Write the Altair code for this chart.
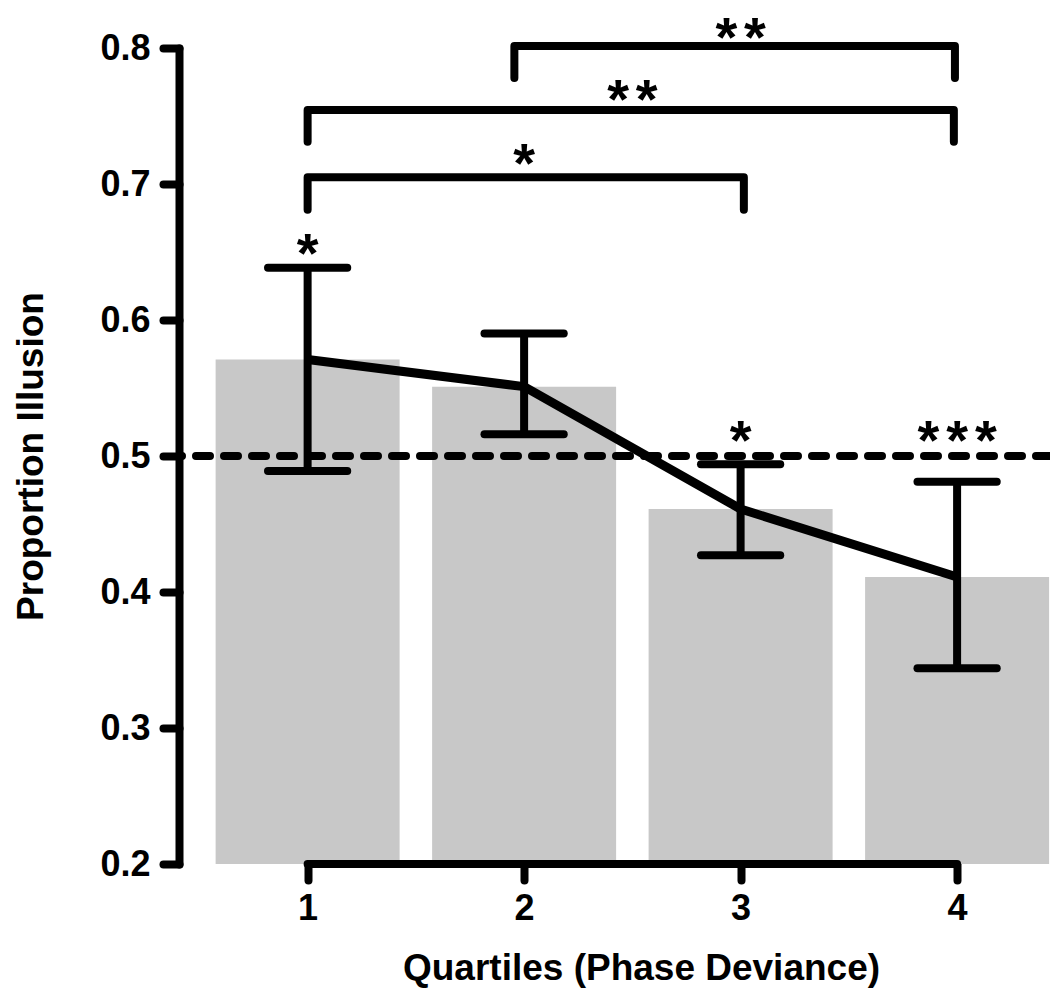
import altair as alt
import pandas as pd

# ---- data ----
quartiles = [1, 2, 3, 4]
means = [0.571, 0.551, 0.461, 0.411]
err_lo = [0.489, 0.516, 0.427, 0.344]
err_hi = [0.6385, 0.590, 0.494, 0.481]

chance = 0.5
y_ticks = [0.2, 0.3, 0.4, 0.5, 0.6, 0.7, 0.8]

br_id = ["1-3", "1-4", "2-4"]
br_x1 = [1.0, 1.0, 1.955]
br_x2 = [3.015, 3.985, 3.99]
br_y = [0.705, 0.7545, 0.8015]
br_end = [0.681, 0.731, 0.778]

star_text = ["*", "**", "**", "*", "*", "***"]
star_x = [2.0, 2.5, 3.0, 1.0, 3.0, 4.0]
star_y = [0.725, 0.772, 0.818, 0.659, 0.521, 0.521]

# ---- tables ----
bars = pd.DataFrame({"q": quartiles, "mean": means, "lo": err_lo, "hi": err_hi,
                     "base": [y_ticks[0]] * len(quartiles)})
rows = []
for b, x1, x2, y, e in zip(br_id, br_x1, br_x2, br_y, br_end):
    rows += [{"id": b, "o": 0, "q": x1, "mean": e},
             {"id": b, "o": 1, "q": x1, "mean": y},
             {"id": b, "o": 2, "q": x2, "mean": y},
             {"id": b, "o": 3, "q": x2, "mean": e}]
brackets = pd.DataFrame(rows)

# one row per asterisk, k = index within its label, n = label length
star_rows = []
for t, x, y in zip(star_text, star_x, star_y):
    for k in range(len(t)):
        star_rows.append({"t": "*", "c": x, "mean": y, "k": k, "n": len(t)})
stars = pd.DataFrame(star_rows)

axis_line = pd.DataFrame({"q": [quartiles[0]], "q2": [quartiles[-1]], "mean": [y_ticks[0]]})
chance_df = pd.DataFrame({"mean": [chance]})

FONT = "Liberation Sans"
xs = alt.Scale(domain=[0.429, 4.406], nice=False, zero=False)
ys = alt.Scale(domain=[0.2, 0.8], nice=False, zero=False)

x_axis = alt.Axis(values=quartiles, format="d", domain=False, grid=False,
                  tickWidth=8, tickCap="round", tickSize=16, tickColor="black",
                  labelFont=FONT, labelFontSize=36, labelFontWeight="bold",
                  labelColor="black", labelPadding=11,
                  title="Quartiles (Phase Deviance)", titleFont=FONT,
                  titleFontSize=37, titleFontWeight="bold", titleColor="black",
                  titleX=462, titleY=104, titleBaseline="middle", titleAlign="center")
y_axis = alt.Axis(values=y_ticks, format=".1f", grid=False,
                  domainWidth=8, domainCap="round", domainColor="black",
                  tickWidth=8, tickCap="round", tickSize=16, tickColor="black",
                  labelFont=FONT, labelFontSize=36, labelFontWeight="bold",
                  labelColor="black", labelPadding=13,
                  title="Proportion Illusion", titleFont=FONT,
                  titleFontSize=37, titleFontWeight="bold", titleColor="black",
                  titleX=-148, titleY=408, titleAngle=-90,
                  titleBaseline="middle", titleAlign="center")

X = lambda f: alt.X(f, scale=xs, axis=x_axis, title="Quartiles (Phase Deviance)")
Y = lambda f: alt.Y(f, scale=ys, axis=y_axis, title="Proportion Illusion")

bar_layer = alt.Chart(bars).mark_bar(size=184, color="#c8c8c8").encode(
    x=X("q:Q"), y=Y("mean:Q"), y2="base:Q")

dash_layer = alt.Chart(chance_df).mark_rule(
    color="black", strokeWidth=8, strokeDash=[14, 14], strokeCap="round"
).encode(y=Y("mean:Q"))

axis_layer = alt.Chart(axis_line).mark_rule(
    color="black", strokeWidth=8, strokeCap="round"
).encode(x=X("q:Q"), x2="q2:Q", y=Y("mean:Q"))

err_v = alt.Chart(bars).mark_rule(color="black", strokeWidth=8).encode(
    x=X("q:Q"), y=Y("lo:Q"), y2="hi:Q")

cap_base = alt.Chart(bars).transform_calculate(
    xa="datum.q - 0.183", xb="datum.q + 0.183")
cap_lo = cap_base.mark_rule(color="black", strokeWidth=8, strokeCap="round").encode(
    x=X("xa:Q"), x2="xb:Q", y=Y("lo:Q"))
cap_hi = cap_base.mark_rule(color="black", strokeWidth=8, strokeCap="round").encode(
    x=X("xa:Q"), x2="xb:Q", y=Y("hi:Q"))

mean_line = alt.Chart(bars).mark_line(
    color="black", strokeWidth=9, strokeJoin="round", strokeCap="butt"
).encode(x=X("q:Q"), y=Y("mean:Q"))

bracket_layer = alt.Chart(brackets).mark_line(
    color="black", strokeWidth=8, strokeJoin="round", strokeCap="round", clip=False
).encode(x=X("q:Q"), y=Y("mean:Q"), detail="id:N", order="o:Q")

# asterisks spaced 29 px apart (29 / 219 data units)
star_layer = alt.Chart(stars).transform_calculate(
    q="datum.c + (datum.k - (datum.n - 1) / 2) * 0.1324"
).mark_text(
    font=FONT, fontSize=56, fontWeight="bold", color="black",
    baseline="alphabetic", align="center", dy=32, clip=False
).encode(x=X("q:Q"), y=Y("mean:Q"), text="t:N")

chart = alt.layer(
    bar_layer, dash_layer, axis_layer, err_v, cap_lo, cap_hi, mean_line,
    bracket_layer, star_layer
).properties(
    width=871, height=816,
    autosize=alt.AutoSizeParams(type="none"),
    padding={"left": 179, "top": 48, "right": 0, "bottom": 125},
    background="white",
).configure_view(stroke=None)

chart.save("out.html", embed_options={"renderer": "svg", "actions": False})
